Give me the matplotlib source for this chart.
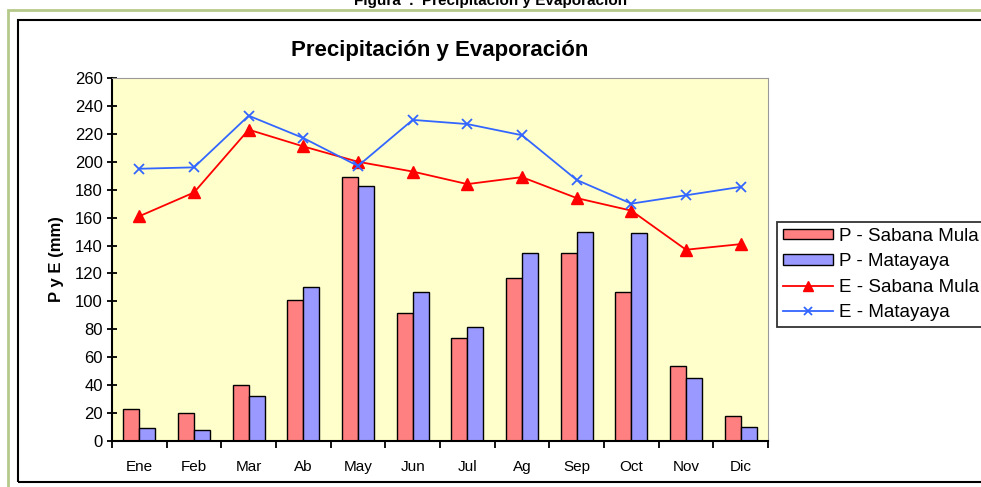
import matplotlib.pyplot as plt
import numpy as np
from matplotlib.patches import Rectangle

plt.rcParams['font.family'] = ['Liberation Sans', 'DejaVu Sans']

meses = ['Ene', 'Feb', 'Mar', 'Ab', 'May', 'Jun', 'Jul', 'Ag', 'Sep', 'Oct', 'Nov', 'Dic']
p_sabana = [23, 20, 40, 101, 189, 92, 74, 117, 135, 107, 54, 18]
p_matayaya = [9, 8, 32, 110, 183, 107, 82, 135, 150, 149, 45, 10]
e_sabana = [161, 178, 223, 211, 200, 193, 184, 189, 174, 165, 137, 141]
e_matayaya = [195, 196, 233, 217, 197, 230, 227, 219, 187, 170, 176, 182]

fig = plt.figure(figsize=(9.81, 4.87), dpi=100)

# outer frames
fig.patches.append(Rectangle((8/981, -0.1), 1.2, 1 - 10/487 + 0.1, transform=fig.transFigure,
                             fill=False, edgecolor='#b5c98a', linewidth=2))
fig.patches.append(Rectangle((18/981, 5/487), 1.2, 1 - 25/487, transform=fig.transFigure,
                             fill=False, edgecolor='black', linewidth=1.5))
fig.text(0.5, 0.997, 'Figura  .  Precipitación y Evaporación', ha='center', va='center',
         fontsize=11, fontweight='bold')

ax = fig.add_axes([112/981, 1 - 441/487, (768 - 112)/981, (441 - 78)/487])
ax.set_facecolor('#FFFFCC')

x = np.arange(len(meses))
w = 0.29
b1 = ax.bar(x - w/2, p_sabana, w, color='#FF8080', edgecolor='black', linewidth=1, zorder=2)
b2 = ax.bar(x + w/2, p_matayaya, w, color='#9999FF', edgecolor='black', linewidth=1, zorder=2)
l1, = ax.plot(x, e_sabana, color='red', marker='^', markersize=9, linewidth=1.3, zorder=3)
l2, = ax.plot(x, e_matayaya, color='#3366FF', marker='x', markersize=7, markeredgewidth=1.3,
              linewidth=1.3, zorder=3)

ax.set_xlim(-0.5, 11.5)
ax.set_ylim(0, 260)
ax.set_yticks(np.arange(0, 261, 20))
ax.tick_params(axis='y', labelsize=12, direction='inout', length=7, width=1.3, pad=3)
ax.set_xticks(x)
ax.set_xticklabels(meses)
ax.set_xticks(np.arange(-0.5, 12, 1), minor=True)
ax.tick_params(axis='x', which='major', length=0, labelsize=11, pad=14)
ax.tick_params(axis='x', which='minor', direction='out', length=5, width=1.3)
for s in ['left', 'bottom']:
    ax.spines[s].set_linewidth(1.5)
for s in ['top', 'right']:
    ax.spines[s].set_color('#999999')
ax.set_ylabel('P y E (mm)', fontsize=12, fontweight='bold', labelpad=8)
ax.set_title('Precipitación y Evaporación', fontsize=16, fontweight='bold', pad=16)

leg = ax.legend([b1, b2, l1, l2], ['P - Sabana Mula', 'P - Matayaya', 'E - Sabana Mula', 'E - Matayaya'],
                loc='upper left', bbox_to_anchor=(777/981, 1 - 222/487), bbox_transform=fig.transFigure,
                fontsize=13.5, frameon=True, fancybox=False, edgecolor='black', borderpad=0.3,
                labelspacing=0.45, handlelength=2.7, handleheight=0.5, handletextpad=0.3,
                borderaxespad=0, markerscale=0.8)
leg.get_frame().set_linewidth(1.3)

fig.savefig('out.png', dpi=100)
